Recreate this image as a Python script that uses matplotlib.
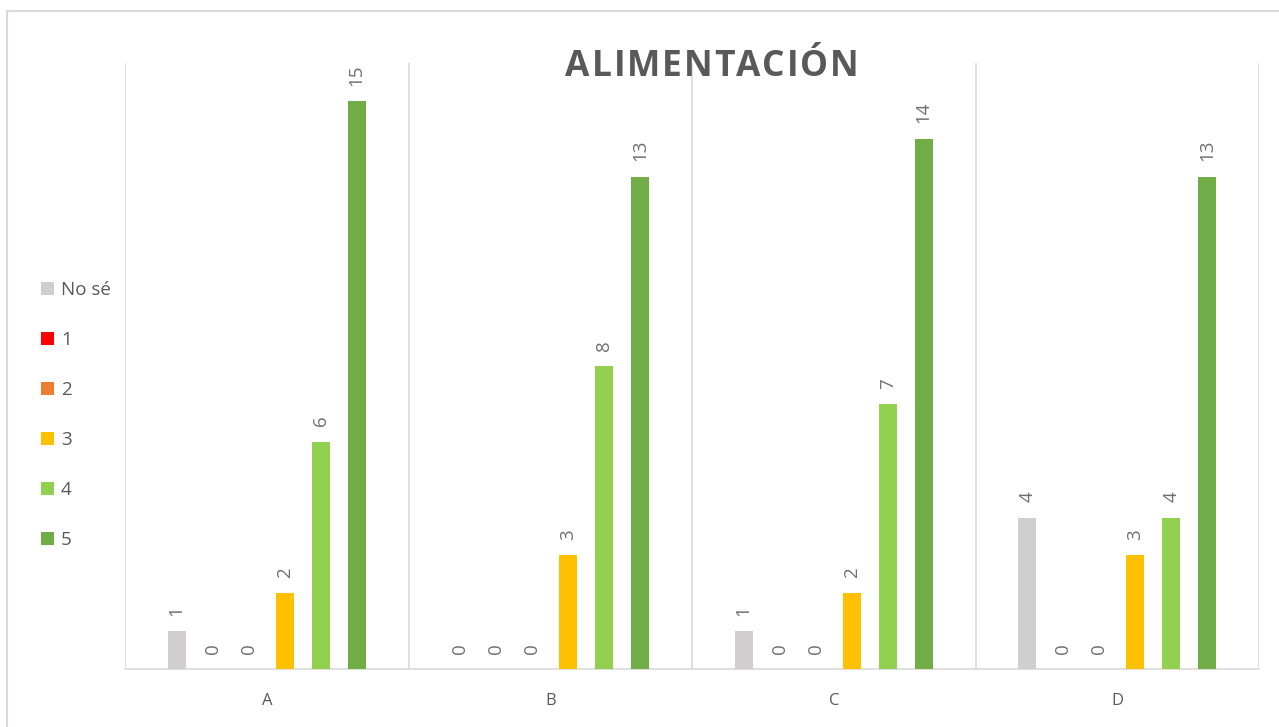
import matplotlib
matplotlib.use("Agg")
import matplotlib.pyplot as plt
import numpy as np
from matplotlib.patches import Rectangle, Patch

categories = ["A", "B", "C", "D"]
series_names = ["No sé", "1", "2", "3", "4", "5"]
values = {
    "No sé": [1, 0, 1, 4],
    "1": [0, 0, 0, 0],
    "2": [0, 0, 0, 0],
    "3": [2, 3, 2, 3],
    "4": [6, 8, 7, 4],
    "5": [15, 13, 14, 13],
}
colors = ["#D0CECE", "#FF0000", "#ED7D31", "#FFC000", "#92D050", "#70AD47"]
title = "ALIMENTACIÓN"

W, H = 1279, 727
fig = plt.figure(figsize=(W / 100, H / 100), dpi=100)
plt.rcParams["font.family"] = ["Open Sans", "DejaVu Sans"]

# outer chart frame
fig.patches.append(Rectangle((7 / W, -0.1), 1.2, 1 - 11 / H + 0.1,
                             transform=fig.transFigure, fill=False,
                             edgecolor="#D9D9D9", linewidth=1.5, zorder=0))

ax = fig.add_axes([125 / W, 1 - 669 / H, (1259 - 125) / W, (669 - 63) / H])
text_gray = "#595959"
label_gray = "#707070"
grid_gray = "#D9D9D9"

n = len(series_names)
step = 0.127
width = 0.0635
x = np.arange(len(categories))
for i, (name, col) in enumerate(zip(series_names, colors)):
    offs = (i - (n - 1) / 2) * step
    vals = values[name]
    ax.bar(x + offs, vals, width=width, color=col, label=name, zorder=3)
    for xi, v in zip(x + offs, vals):
        ax.annotate(str(v), (xi, v), xytext=(0, 11), textcoords="offset points",
                    rotation=90, ha="center", va="bottom",
                    fontsize=13.5, color=label_gray)

ax.set_xlim(-0.5, len(categories) - 0.5)
ax.set_ylim(0, 16)
ax.set_yticks([])
ax.set_xticks(x)
ax.set_xticklabels(categories, fontsize=12, color=text_gray)
ax.tick_params(axis="x", length=0, pad=17.5)
for b in np.arange(-0.5, len(categories), 1.0):
    ax.axvline(b, color=grid_gray, linewidth=1.2, zorder=1)
for s in ["top", "left", "right"]:
    ax.spines[s].set_visible(False)
ax.spines["bottom"].set_color(grid_gray)
ax.spines["bottom"].set_linewidth(1.2)

# spaced-out title, laid out glyph by glyph
fig.canvas.draw()
renderer = fig.canvas.get_renderer()
tsize = 25.5
tracking = 1.8  # extra pixels between letters
glyphs = []
for ch in title:
    t = fig.text(0, 0, ch, fontsize=tsize, fontweight="bold", color=text_gray,
                 ha="left", va="baseline")
    glyphs.append((t, t.get_window_extent(renderer).width))
total = sum(w for _, w in glyphs) + tracking * (len(glyphs) - 1)
xpos = 712 - total / 2
for t, w in glyphs:
    t.set_position((xpos / W, 1 - 76.5 / H))
    xpos += w + tracking

handles = [Patch(facecolor=c, edgecolor="none") for c in colors]
fig.legend(handles, series_names, loc="center left",
           bbox_to_anchor=(24 / W, 1 - 415 / H), frameon=False,
           fontsize=13.5, labelcolor=text_gray, handlelength=0.72,
           handleheight=0.72, handletextpad=0.35, labelspacing=1.71)

fig.savefig("out.png", dpi=100, facecolor="white")
